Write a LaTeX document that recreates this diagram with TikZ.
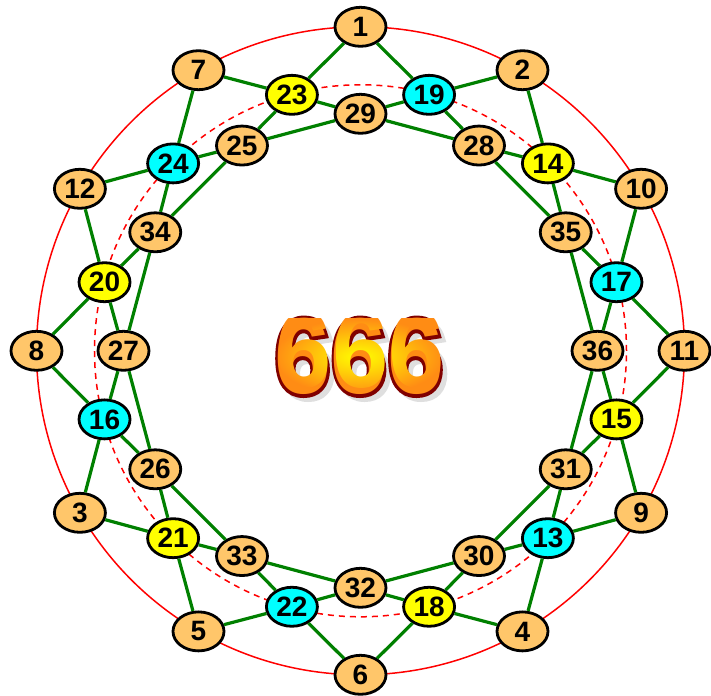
\documentclass[tikz,border=0pt]{standalone}
\usepackage{fontspec}
\setmainfont{Liberation Sans}
\newfontfamily\sixfont{Liberation Sans Bold}
\newfontfamily\sixfontwide[FakeBold=5.5]{Liberation Sans Bold}
\usetikzlibrary{shapes.geometric,fadings}
\definecolor{nodeorange}{RGB}{255,198,106}
\definecolor{nodeyellow}{RGB}{255,255,0}
\definecolor{nodecyan}{RGB}{0,255,255}
\definecolor{linegreen}{RGB}{0,128,0}
\definecolor{ringred}{RGB}{255,0,0}
\definecolor{sixred}{RGB}{128,0,0}
\definecolor{sixorange}{RGB}{255,140,20}
\newcommand{\sixtext}[1]{\scalebox{0.94}[1]{#1\fontsize{108}{108}\selectfont 666}}
\begin{tikzfadingfrompicture}[name=sixfade]
  \node[text=transparent!0,inner sep=0pt](sf){\sixtext{\sixfont}};
\end{tikzfadingfrompicture}

\begin{document}
\begin{tikzpicture}[
  nd/.style={ellipse,draw,line width=2.8pt,minimum width=51pt,minimum height=39pt,inner sep=0pt,
             font=\bfseries\fontsize{28}{28}\selectfont},
  og/.style={nd,fill=nodeorange}, ye/.style={nd,fill=nodeyellow}, cy/.style={nd,fill=nodecyan},
  link/.style={linegreen,line width=3.2pt},
  ring/.style={ringred,line width=1.5pt},
  big/.style={inner sep=0pt}]
  \useasboundingbox (-360.5pt,-344.2pt) rectangle (350.5pt,350.8pt);
  \coordinate (c) at (0,0);
  \draw[ring](c) circle (324pt);
  \draw[ring,dash pattern=on 6pt off 5pt](c) circle (266pt);
  % centre text
  \node[big,text=gray!25](shadow) at (3pt,-10pt){\sixtext{\sixfontwide}};
  \node[big,text=sixred](rim) at (-1.5pt,-6pt){\sixtext{\sixfontwide}};
  \node[big,text=sixorange](six) at (-1.5pt,-6pt){\sixtext{\sixfont}};
  \shade[path fading=sixfade,fit fading=false,inner color=nodeyellow,outer color=sixorange]
    (six.south west) rectangle (six.north east);
  % outer ring
  \node[og](n1) at (90:324pt){1};   \node[og](n2) at (60:324pt){2};
  \node[og](n10) at (30:324pt){10}; \node[og](n11) at (0:324pt){11};
  \node[og](n9) at (-30:324pt){9};  \node[og](n4) at (-60:324pt){4};
  \node[og](n6) at (-90:324pt){6};  \node[og](n5) at (-120:324pt){5};
  \node[og](n3) at (-150:324pt){3}; \node[og](n8) at (180:324pt){8};
  \node[og](n12) at (150:324pt){12}; \node[og](n7) at (120:324pt){7};
  % middle ring
  \node[cy](n19) at (75:265pt){19};   \node[ye](n14) at (45:265pt){14};
  \node[cy](n17) at (15:265pt){17};   \node[ye](n15) at (-15:265pt){15};
  \node[cy](n13) at (-45:265pt){13};  \node[ye](n18) at (-75:265pt){18};
  \node[cy](n22) at (-105:265pt){22}; \node[ye](n21) at (-135:265pt){21};
  \node[cy](n16) at (-165:265pt){16}; \node[ye](n20) at (165:265pt){20};
  \node[cy](n24) at (135:265pt){24};  \node[ye](n23) at (105:265pt){23};
  % inner ring
  \node[og](n29) at (90:237pt){29};   \node[og](n28) at (60:237pt){28};
  \node[og](n35) at (30:237pt){35};   \node[og](n36) at (0:237pt){36};
  \node[og](n31) at (-30:237pt){31};  \node[og](n30) at (-60:237pt){30};
  \node[og](n32) at (-90:237pt){32};  \node[og](n33) at (-120:237pt){33};
  \node[og](n26) at (-150:237pt){26}; \node[og](n27) at (180:237pt){27};
  \node[og](n34) at (150:237pt){34};  \node[og](n25) at (120:237pt){25};
  % spokes
  \draw[link](n1)--(n23); \draw[link](n1)--(n19); \draw[link](n2)--(n19); \draw[link](n2)--(n14);
  \draw[link](n10)--(n14); \draw[link](n10)--(n17); \draw[link](n11)--(n17); \draw[link](n11)--(n15);
  \draw[link](n9)--(n15); \draw[link](n9)--(n13); \draw[link](n4)--(n13); \draw[link](n4)--(n18);
  \draw[link](n6)--(n18); \draw[link](n6)--(n22); \draw[link](n5)--(n22); \draw[link](n5)--(n21);
  \draw[link](n3)--(n21); \draw[link](n3)--(n16); \draw[link](n8)--(n16); \draw[link](n8)--(n20);
  \draw[link](n12)--(n20); \draw[link](n12)--(n24); \draw[link](n7)--(n24); \draw[link](n7)--(n23);
  % chords
  \draw[link](n23)--(n29)--(n28)--(n14); \draw[link](n19)--(n28)--(n35)--(n17);
  \draw[link](n14)--(n35)--(n36)--(n15); \draw[link](n17)--(n36)--(n31)--(n13);
  \draw[link](n15)--(n31)--(n30)--(n18); \draw[link](n13)--(n30)--(n32)--(n22);
  \draw[link](n18)--(n32)--(n33)--(n21); \draw[link](n22)--(n33)--(n26)--(n16);
  \draw[link](n21)--(n26)--(n27)--(n20); \draw[link](n16)--(n27)--(n34)--(n24);
  \draw[link](n20)--(n34)--(n25)--(n23); \draw[link](n24)--(n25)--(n29)--(n19);
\end{tikzpicture}
\end{document}
